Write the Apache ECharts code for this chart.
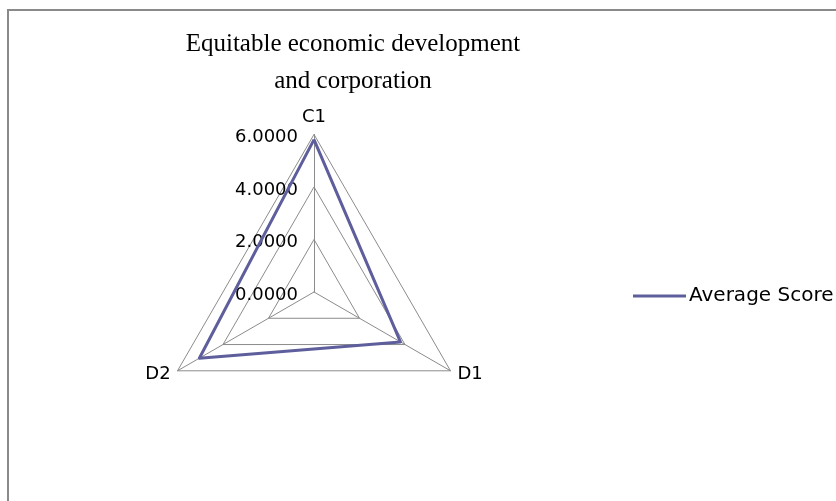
<!DOCTYPE html>
<html>
<head>
<meta charset="utf-8">
<script src="https://cdn.jsdelivr.net/npm/echarts@6/dist/echarts.min.js"></script>
<style>
  html, body { margin: 0; padding: 0; background: #fff; }
  #chart { width: 836px; height: 501px; }
</style>
</head>
<body>
<div id="chart"></div>
<script>
// Radar axes (listed counter-clockwise from the top) and the scored values
const indicatorNames = ['C1', 'D2', 'D1'];
const averageScore = [5.80, 5.04, 3.80];
const scaleMax = 6;
const scaleSplits = 3;
const seriesName = 'Average Score';
const titleLines = ['Equitable economic development', 'and corporation'];

const chart = echarts.init(document.getElementById('chart'));

const indicators = indicatorNames.map((name, i) => ({
  name: name,
  min: 0,
  max: scaleMax,
  // value labels only along the first (vertical) axis
  axisLabel: { show: i === 0 }
}));

chart.setOption({
  backgroundColor: '#fff',
  animation: false,
  graphic: [{
    type: 'rect',
    shape: { x: 8, y: 10, width: 900, height: 600 },
    style: { fill: 'none', stroke: '#8a8a8a', lineWidth: 2 },
    silent: true
  }],
  title: {
    text: titleLines.join('\n'),
    left: 348,
    top: 21,
    textAlign: 'center',
    textStyle: {
      fontFamily: 'Liberation Serif',
      fontWeight: 'normal',
      fontSize: 25,
      lineHeight: 37,
      color: '#000'
    }
  },
  legend: {
    data: [seriesName],
    left: 628,
    top: 281,
    icon: 'rect',
    itemWidth: 53,
    itemHeight: 3,
    itemGap: 0,
    textStyle: {
      fontFamily: 'DejaVu Sans',
      fontSize: 20,
      color: '#000',
      padding: [0, 0, 0, -2]
    }
  },
  radar: {
    center: [314, 292],
    radius: 157.6,
    startAngle: 90,
    shape: 'polygon',
    splitNumber: scaleSplits,
    indicator: indicators,
    nameGap: 8,
    axisName: {
      color: '#000',
      fontFamily: 'DejaVu Sans',
      fontSize: 18
    },
    axisLine: { lineStyle: { color: '#8c8c8c', width: 1 } },
    splitLine: { lineStyle: { color: '#8c8c8c', width: 1 } },
    splitArea: { show: false },
    axisTick: { show: false },
    axisLabel: {
      show: false,
      showMinLabel: true,
      showMaxLabel: true,
      margin: 16,
      verticalAlign: 'top',
      lineHeight: 6,
      color: '#000',
      fontFamily: 'DejaVu Sans',
      fontSize: 18,
      formatter: v => Number(v).toFixed(4)
    }
  },
  series: [{
    type: 'radar',
    name: seriesName,
    symbol: 'none',
    lineStyle: { color: '#5e5e9c', width: 3 },
    itemStyle: { color: '#5e5e9c' },
    data: [{ value: averageScore, name: seriesName }]
  }]
});
</script>
</body>
</html>
